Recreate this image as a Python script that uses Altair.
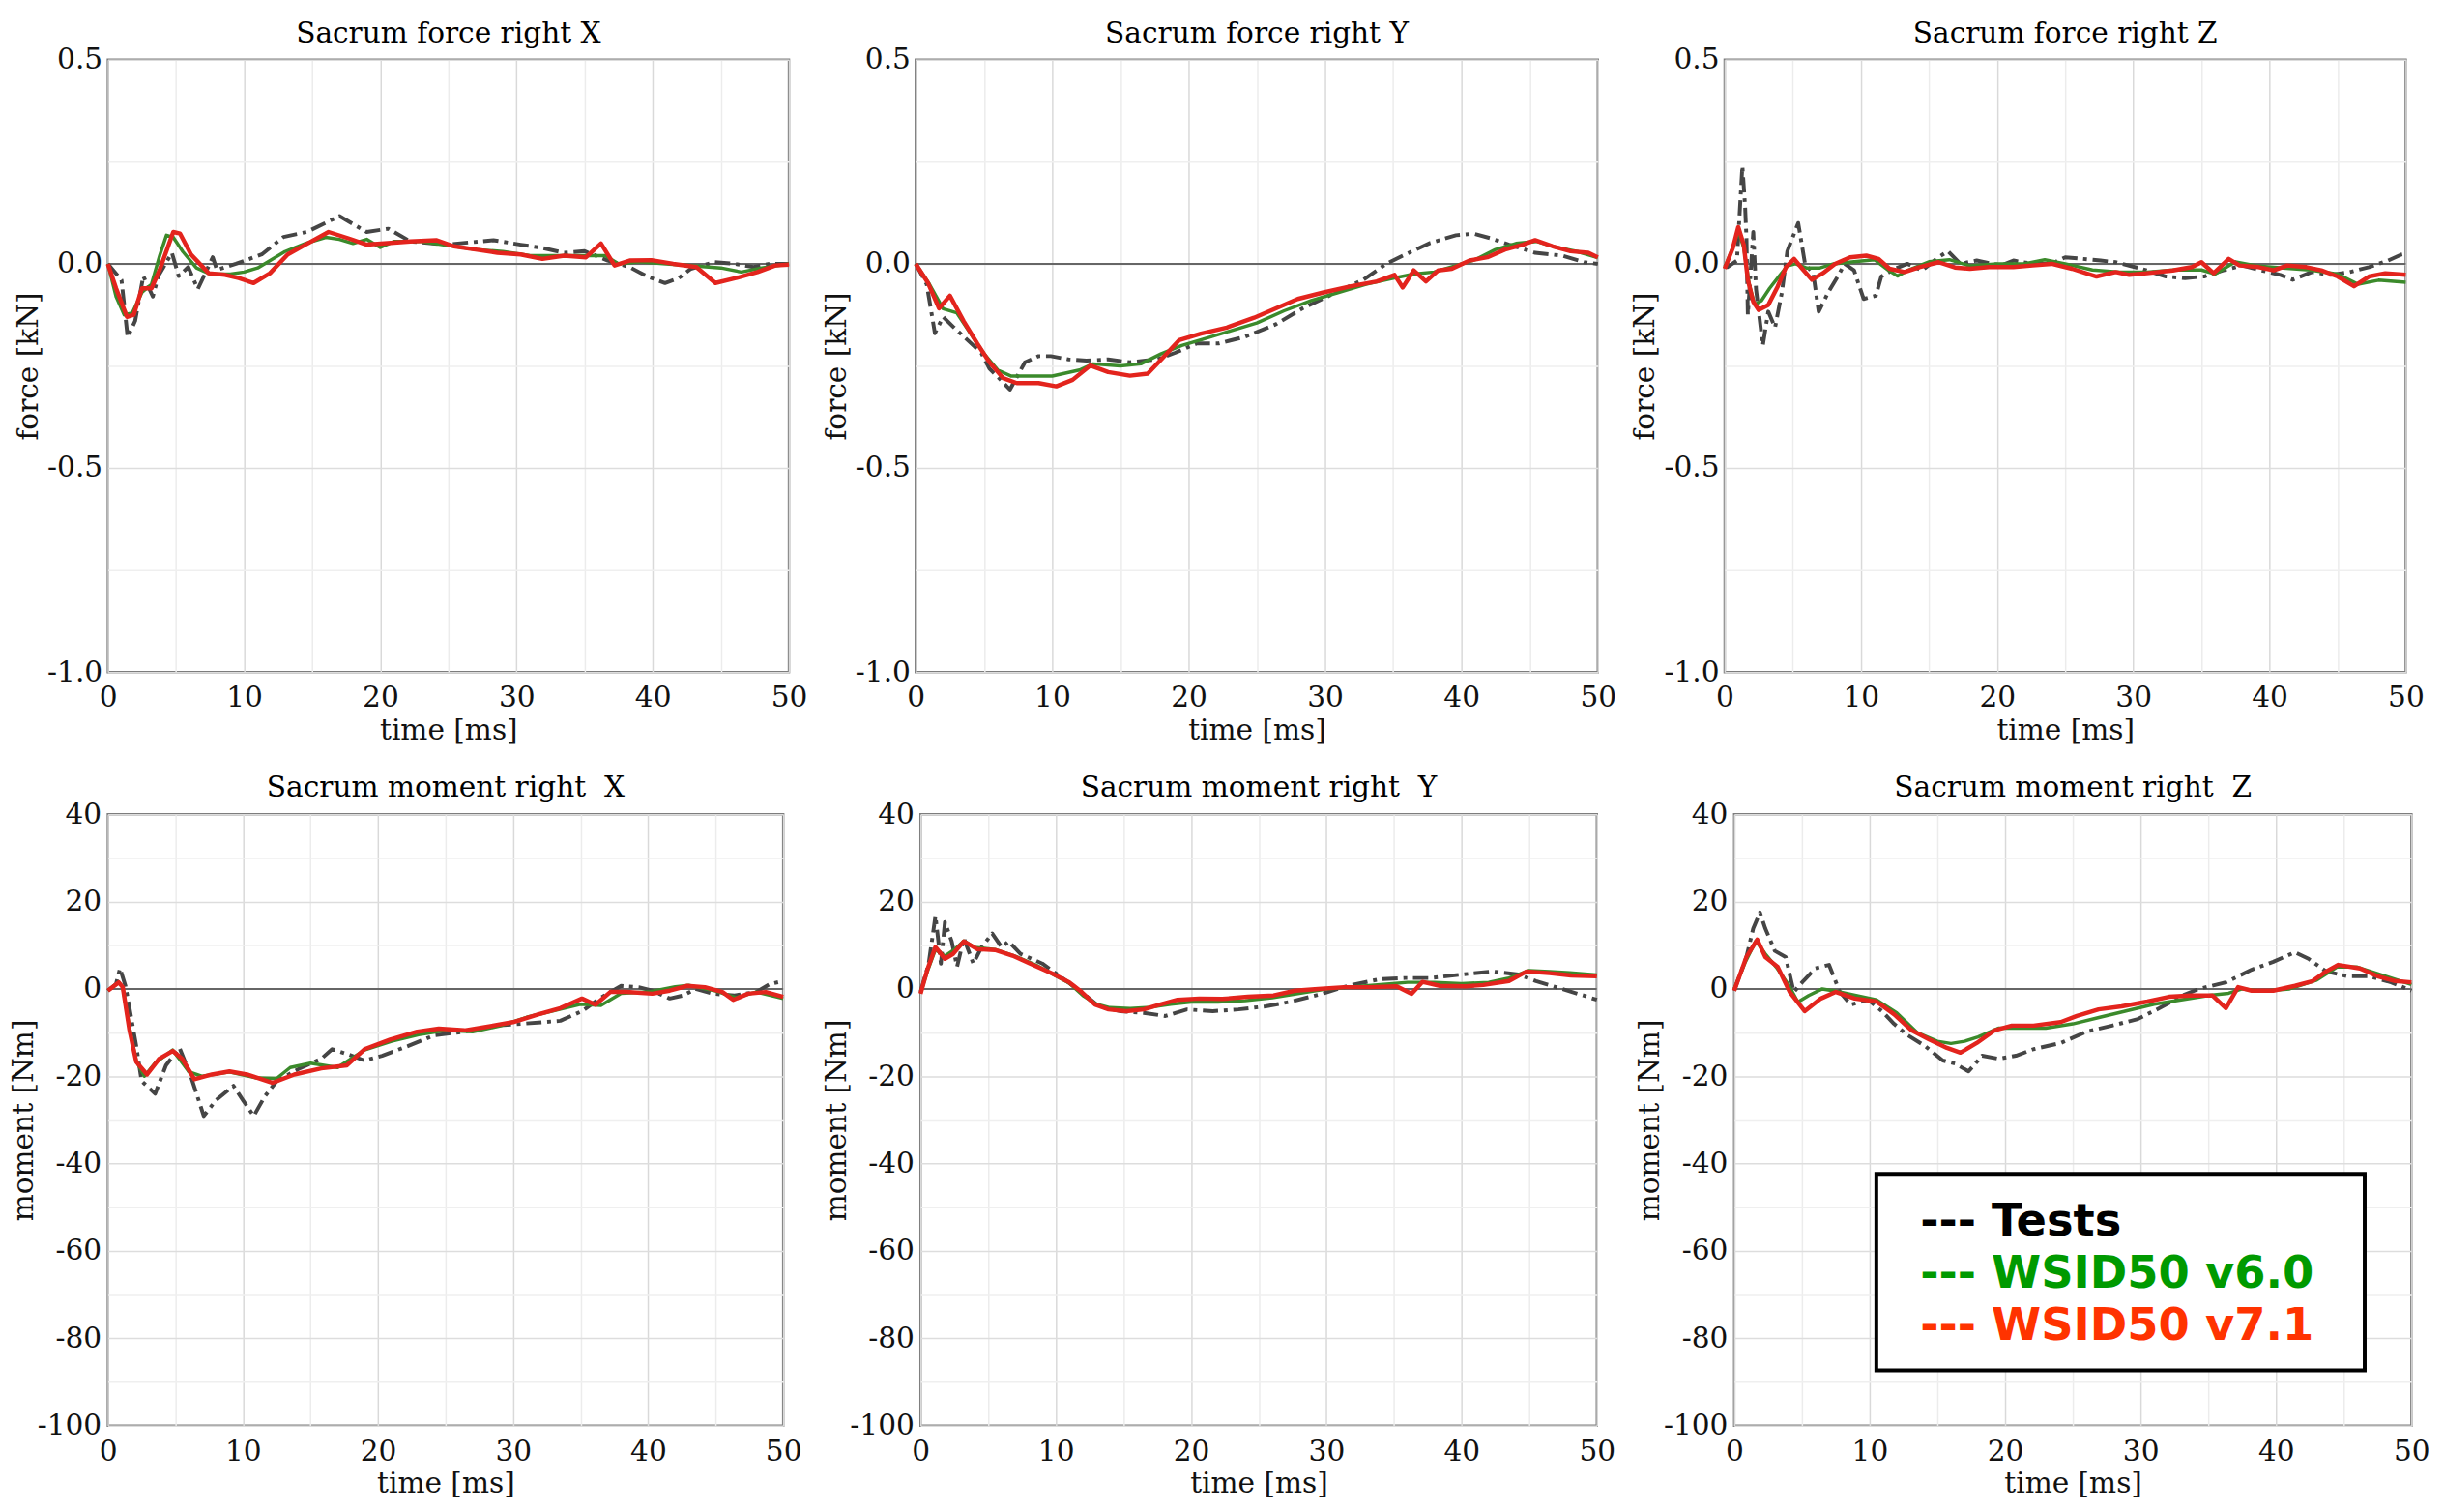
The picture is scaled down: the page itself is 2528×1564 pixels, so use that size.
import altair as alt
import pandas as pd

SERIES = ["Tests", "WSID50 v6.0", "WSID50 v7.1"]

# ---------------- Sacrum force right X [kN] ----------------
FX_TESTS = [(0, 0), (1.0, -0.04), (1.45, -0.18), (2.0, -0.14), (2.6, -0.03), (3.3, -0.08), (3.7, -0.03),
            (4.7, 0.027), (5.2, -0.03), (5.9, -0.008), (6.6, -0.062), (7.7, 0.016), (8.0, -0.015), (9.4, 0.0),
            (11.3, 0.023), (12.9, 0.066), (14.6, 0.078), (17.0, 0.117), (19.0, 0.078), (20.6, 0.086),
            (22.2, 0.055), (24.8, 0.047), (28.3, 0.058), (30.3, 0.047), (31.9, 0.039), (33.5, 0.027),
            (35.0, 0.031), (36.7, 0.008), (38.3, -0.008), (39.6, -0.031), (40.9, -0.047), (41.9, -0.035),
            (42.8, -0.012), (44.5, 0.004), (46.0, 0.0), (47.4, -0.008), (48.6, 0.0), (50, 0.0)]
FX_V60 = [(0, 0), (0.6, -0.08), (1.2, -0.125), (1.8, -0.12), (2.5, -0.07), (3.2, -0.05), (3.8, 0.02),
          (4.3, 0.07), (4.8, 0.065), (5.5, 0.03), (6.5, -0.01), (7.5, -0.025), (9, -0.025), (10, -0.02),
          (11, -0.01), (12, 0.01), (13, 0.03), (14.5, 0.05), (16, 0.065), (17, 0.06), (18, 0.05), (19, 0.06),
          (20, 0.04), (21, 0.055), (23, 0.055), (25, 0.045), (27, 0.035), (29, 0.03), (31, 0.02), (33, 0.02),
          (35, 0.02), (36.5, 0.02), (37.5, 0.0), (39, 0.005), (41, 0.0), (43, -0.005), (45, -0.01),
          (46.5, -0.02), (48, -0.01), (50, 0.0)]
FX_V71 = [(0, 0), (0.6, -0.06), (1.4, -0.13), (1.9, -0.125), (2.5, -0.06), (3.2, -0.06), (3.8, -0.015),
          (4.8, 0.078), (5.3, 0.074), (6.1, 0.023), (7.4, -0.023), (8.6, -0.027), (9.6, -0.035),
          (10.7, -0.047), (11.9, -0.023), (13.2, 0.023), (14.5, 0.047), (16.2, 0.078), (17.7, 0.062),
          (19.0, 0.047), (20.3, 0.05), (22.2, 0.055), (24.1, 0.058), (25.4, 0.043), (27.0, 0.035),
          (28.6, 0.027), (30.3, 0.023), (31.9, 0.012), (33.5, 0.02), (35.1, 0.016), (36.2, 0.05),
          (37.2, -0.004), (38.3, 0.008), (39.9, 0.009), (41.5, 0.0), (43.2, -0.008), (44.6, -0.047),
          (46.1, -0.035), (47.7, -0.02), (49.0, -0.004), (50, -0.002)]

# ---------------- Sacrum force right Y [kN] ----------------
FY_TESTS = [(0, 0), (0.8, -0.05), (1.4, -0.17), (2.0, -0.13), (2.8, -0.156), (3.8, -0.187), (4.8, -0.218),
            (5.4, -0.257), (6.1, -0.28), (6.9, -0.308), (8.0, -0.241), (9.0, -0.226), (9.9, -0.226),
            (11.2, -0.234), (12.5, -0.237), (14.1, -0.234), (15.7, -0.241), (17.7, -0.234), (19.0, -0.218),
            (20.6, -0.195), (22.2, -0.195), (24.1, -0.179), (26.4, -0.148), (28.3, -0.11), (30.3, -0.078),
            (32.8, -0.039), (34.5, 0.0), (35.7, 0.02), (37.7, 0.051), (39.6, 0.07), (40.9, 0.074),
            (42.2, 0.062), (43.5, 0.047), (45.4, 0.027), (47.4, 0.02), (49.0, 0.004), (50, 0.0)]
FY_V60 = [(0, 0), (1, -0.05), (2, -0.11), (3, -0.12), (4, -0.17), (5, -0.22), (6, -0.26), (7, -0.275),
          (8, -0.275), (10, -0.275), (12, -0.26), (13, -0.245), (15, -0.25), (16.5, -0.245), (18, -0.22),
          (19.5, -0.2), (21, -0.185), (23, -0.165), (25, -0.145), (27, -0.115), (29, -0.09), (31, -0.07),
          (33, -0.05), (35, -0.035), (36.5, -0.025), (38, -0.02), (39.5, -0.005), (41, 0.01), (42.5, 0.035),
          (44, 0.05), (45.5, 0.055), (47, 0.04), (48.5, 0.03), (50, 0.015)]
FY_V71 = [(0, 0), (0.9, -0.047), (1.7, -0.109), (2.5, -0.078), (3.5, -0.14), (4.5, -0.195), (5.4, -0.241),
          (6.4, -0.28), (7.4, -0.292), (9.0, -0.292), (10.3, -0.3), (11.5, -0.284), (12.8, -0.249),
          (14.1, -0.265), (15.7, -0.274), (17.0, -0.269), (18.0, -0.234), (19.3, -0.187), (20.9, -0.171),
          (22.8, -0.156), (24.8, -0.132), (26.4, -0.109), (28.0, -0.086), (29.9, -0.07), (31.9, -0.055),
          (33.8, -0.043), (35.1, -0.027), (35.7, -0.058), (36.5, -0.016), (37.4, -0.043), (38.3, -0.016),
          (39.3, -0.012), (40.6, 0.008), (41.9, 0.016), (43.2, 0.035), (44.5, 0.047), (45.4, 0.058),
          (46.7, 0.043), (48.0, 0.031), (49.3, 0.027), (50, 0.016)]

# ---------------- Sacrum force right Z [kN] ----------------
FZ_TESTS = [(0, 0), (0.2, -0.008), (0.9, 0.008), (1.3, 0.24), (1.5, 0.14), (1.6, 0.062), (1.7, -0.125),
            (2.1, 0.078), (2.3, -0.062), (2.8, -0.2), (3.2, -0.117), (3.7, -0.156), (4.2, -0.07), (4.6, 0.031),
            (5.4, 0.1), (5.9, 0.0), (6.5, -0.023), (6.9, -0.117), (7.6, -0.07), (8.3, -0.031), (8.8, 0.0),
            (9.5, -0.016), (10.2, -0.086), (11.1, -0.078), (11.5, -0.031), (12.5, -0.012), (13.4, 0.0),
            (14.5, -0.016), (15.7, 0.016), (16.4, 0.031), (17.3, 0.0), (18.5, 0.008), (20.3, -0.004),
            (21.2, 0.008), (22.6, 0.0), (24.0, 0.0), (25.0, 0.016), (27.6, 0.008), (28.7, 0.004),
            (30.6, -0.012), (32.4, -0.031), (33.8, -0.035), (35.2, -0.031), (36.6, -0.016), (38.0, -0.004),
            (39.4, -0.016), (40.8, -0.027), (41.7, -0.039), (43.1, -0.02), (44.5, -0.027), (45.9, -0.02),
            (47.3, -0.008), (48.7, 0.008), (49.7, 0.023), (50, 0.025)]
FZ_V60 = [(0, -0.01), (0.6, 0.04), (1.0, 0.08), (1.4, 0.04), (1.8, -0.05), (2.2, -0.1), (2.7, -0.09),
          (3.3, -0.06), (4.0, -0.03), (4.6, -0.005), (5.2, 0.0), (6, -0.01), (7, -0.01), (8, 0.0), (9.5, 0.005),
          (11, 0.01), (12, -0.015), (12.7, -0.03), (13.5, -0.015), (15, 0.005), (16.5, 0.01), (18, -0.005),
          (20, 0.0), (22, 0.0), (23.5, 0.01), (25, 0.0), (27, -0.015), (29, -0.02), (31, -0.02), (33, -0.015),
          (35, -0.015), (36, -0.025), (37.5, 0.005), (39, -0.005), (41, -0.01), (43, -0.015), (45, -0.025),
          (46.5, -0.05), (48, -0.04), (50, -0.045)]
FZ_V71 = [(0, -0.012), (0.6, 0.039), (1.0, 0.09), (1.4, 0.047), (1.7, -0.039), (2.1, -0.093), (2.5, -0.113),
          (3.2, -0.101), (3.9, -0.055), (4.5, -0.008), (5.1, 0.012), (5.7, -0.012), (6.4, -0.039),
          (7.2, -0.023), (8.1, 0.0), (9.2, 0.016), (10.4, 0.02), (11.3, 0.012), (12.1, -0.012), (13.2, -0.02),
          (14.3, -0.008), (15.7, 0.004), (16.9, -0.009), (18.0, -0.012), (19.4, -0.008), (21.2, -0.008),
          (22.6, -0.004), (24.0, 0.0), (25.5, -0.012), (27.3, -0.031), (28.7, -0.02), (29.7, -0.027),
          (31.0, -0.023), (32.9, -0.016), (34.3, -0.008), (35.0, 0.004), (35.9, -0.023), (37.0, 0.012),
          (37.8, -0.004), (39.2, -0.008), (40.3, -0.016), (41.3, -0.004), (42.7, -0.008), (43.8, -0.016),
          (45.0, -0.031), (46.2, -0.055), (47.3, -0.031), (48.5, -0.023), (50, -0.027)]

# ---------------- Sacrum moment right X [Nm] ----------------
MX_TESTS = [(0, -0.4), (0.6, 1.1), (0.9, 4.7), (1.3, 0.7), (1.6, -4.4), (2.1, -13.1), (2.5, -21.1),
            (3.5, -24.0), (4.3, -17.5), (5.3, -13.5), (6.1, -19.6), (7.1, -29.1), (8.0, -25.5), (9.3, -22.2),
            (10.0, -25.5), (10.8, -29.1), (11.6, -24.7), (12.5, -21.1), (14.2, -18.2), (15.8, -16.0),
            (16.6, -13.8), (17.7, -14.9), (19.0, -16.4), (20.3, -15.3), (22.2, -13.1), (24.2, -10.6),
            (26.4, -9.8), (28.7, -8.4), (30.6, -8.0), (33.5, -7.3), (35.1, -5.1), (36.4, -2.2), (38.0, 0.7),
            (39.3, 0.4), (40.3, -0.4), (41.6, -2.2), (42.6, -1.5), (43.5, 0.0), (44.8, -1.1), (46.4, -1.5),
            (48.0, -0.7), (49.0, 1.1), (50, 1.8)]
MX_V60 = [(0, -0.4), (0.8, 1.5), (1.1, 0.4), (1.6, -9.0), (2.1, -16.5), (2.7, -20.0), (3.5, -17.0),
          (4.8, -14.0), (6.0, -19.0), (7.0, -20.0), (9.0, -19.0), (11.0, -20.4), (12.5, -20.5), (13.5, -18.0),
          (15.0, -17.0), (17.0, -18.0), (19.0, -14.0), (21.0, -12.0), (23.0, -10.5), (25.0, -9.5),
          (27.0, -9.8), (29.0, -8.5), (31.0, -6.5), (33.0, -5.0), (35.0, -3.5), (36.5, -3.8), (38.0, -1.0),
          (40.0, -0.7), (42.0, 0.5), (43.0, 0.8), (45.0, -0.5), (46.5, -2.0), (48.0, -0.7), (50, -2.2)]
MX_V71 = [(0, -0.4), (0.8, 1.5), (1.1, 0.4), (1.6, -9.5), (2.1, -16.7), (2.9, -19.6), (3.8, -16.0),
          (4.8, -14.2), (5.5, -16.0), (6.4, -20.7), (7.7, -19.6), (9.0, -18.9), (10.3, -19.6), (12.2, -21.5),
          (13.8, -19.6), (15.8, -18.2), (17.7, -17.5), (19.0, -13.8), (20.9, -11.6), (22.9, -9.8),
          (24.5, -9.1), (26.4, -9.5), (28.0, -8.7), (30.0, -7.6), (31.9, -5.8), (33.5, -4.4), (35.1, -2.2),
          (36.1, -3.6), (37.2, -0.7), (38.4, -0.7), (40.3, -1.1), (41.6, -0.4), (42.9, 0.7), (44.2, 0.4),
          (45.5, -0.7), (46.3, -2.5), (47.4, -1.1), (48.7, -0.7), (50, -1.8)]

# ---------------- Sacrum moment right Y [Nm] ----------------
MY_TESTS = [(0, -0.7), (0.6, 5.8), (1.1, 16.7), (1.5, 5.8), (1.8, 15.3), (2.3, 10.9), (2.7, 5.1), (3.2, 11.6),
            (3.9, 5.8), (4.5, 9.5), (5.3, 12.7), (6.0, 9.5), (6.5, 10.9), (7.4, 8.0), (9.0, 5.8), (10.3, 2.9),
            (11.9, -0.7), (13.2, -4.0), (14.8, -5.1), (16.5, -5.5), (18.1, -6.2), (19.7, -4.7), (21.6, -5.1),
            (23.5, -4.7), (25.5, -4.0), (27.4, -2.9), (29.7, -1.1), (31.6, 0.7), (33.9, 2.2), (35.8, 2.5),
            (37.7, 2.5), (40.0, 3.3), (42.3, 4.0), (44.2, 3.3), (45.5, 1.8), (47.4, 0.0), (49.0, -1.5),
            (50, -2.5)]
MY_V60 = [(0, -1.0), (0.5, 4.0), (1.1, 9.0), (1.8, 7.5), (2.5, 9.0), (3.2, 11.0), (4.0, 9.5), (5.5, 9.0),
          (7.0, 7.5), (8.5, 5.5), (10.0, 3.0), (11.0, 1.3), (12.0, -1.5), (13.0, -3.5), (14.0, -4.3),
          (15.5, -4.5), (17.0, -4.2), (18.5, -3.5), (20.0, -3.0), (22.0, -3.0), (24.0, -2.7), (26.0, -2.0),
          (28.0, -1.0), (30.0, 0.0), (32.0, 0.5), (34.0, 1.0), (36.0, 1.5), (38.0, 1.5), (40.0, 1.2),
          (42.0, 1.5), (43.5, 2.5), (45.0, 4.2), (46.5, 4.0), (48.0, 3.7), (50, 3.2)]
MY_V71 = [(0, -1.1), (0.5, 4.4), (1.1, 9.6), (1.8, 6.9), (2.4, 8.0), (3.2, 10.9), (4.2, 9.1), (5.5, 8.9),
          (6.8, 7.6), (8.1, 5.8), (9.7, 3.6), (11.0, 1.5), (11.9, -0.7), (12.9, -3.6), (13.9, -4.7),
          (15.2, -5.1), (16.5, -4.7), (17.7, -3.6), (19.0, -2.5), (20.6, -2.2), (22.3, -2.3), (24.2, -1.8),
          (26.1, -1.5), (27.7, -0.4), (29.4, 0.0), (31.3, 0.4), (33.2, 0.4), (35.2, 0.6), (36.3, -1.1),
          (37.1, 1.6), (38.4, 0.7), (40.3, 0.6), (41.6, 0.9), (43.5, 1.8), (44.8, 4.0), (46.5, 3.6),
          (48.1, 3.1), (50, 2.9)]

# ---------------- Sacrum moment right Z [Nm] ----------------
MZ_TESTS = [(0, -0.4), (0.9, 7.3), (1.4, 13.8), (1.9, 17.5), (2.3, 13.8), (3.0, 8.7), (3.8, 7.3), (4.4, -0.7),
            (5.1, 1.8), (6.0, 4.7), (7.0, 5.5), (7.8, -0.7), (8.6, -3.6), (9.9, -2.5), (10.9, -5.1),
            (11.8, -8.0), (12.8, -10.6), (14.1, -13.1), (15.4, -16.4), (16.3, -17.1), (17.3, -18.9),
            (18.3, -15.3), (19.5, -16.0), (20.8, -15.3), (22.1, -13.8), (24.1, -12.4), (26.0, -9.8),
            (27.9, -8.4), (29.8, -6.9), (31.4, -4.4), (33.1, -1.5), (34.3, 0.0), (36.3, 1.5), (38.2, 4.4),
            (39.8, 6.2), (41.4, 8.4), (42.4, 6.9), (43.7, 4.0), (45.3, 2.9), (46.9, 2.9), (48.5, 1.5),
            (50, -0.4)]
MZ_V60 = [(0, 0.0), (0.8, 6.0), (1.6, 11.0), (2.3, 8.0), (3.1, 5.0), (4.0, 1.0), (4.7, -3.0), (5.5, -1.5),
          (6.5, 0.0), (7.5, -0.5), (9.0, -1.5), (10.5, -2.5), (12.0, -5.5), (13.5, -10.0), (15.0, -12.0),
          (16.0, -12.5), (17.0, -12.0), (18.0, -11.0), (19.5, -9.0), (21.0, -9.0), (23.0, -9.0), (25.0, -8.0),
          (27.0, -6.5), (29.0, -5.0), (31.0, -3.5), (33.0, -2.5), (35.0, -1.5), (36.5, -1.0), (37.5, 0.0),
          (39.0, -0.5), (41.0, 0.0), (43.0, 2.0), (44.5, 5.0), (46.0, 5.0), (47.5, 3.5), (49.0, 2.0),
          (50, 1.0)]
MZ_V71 = [(0, -0.4), (0.9, 7.3), (1.7, 11.3), (2.3, 7.3), (3.2, 5.1), (4.1, -0.7), (5.2, -5.1), (6.4, -2.2),
          (7.5, -0.7), (8.9, -2.2), (10.5, -2.9), (11.8, -5.8), (13.1, -9.5), (14.4, -11.6), (15.7, -13.5),
          (16.7, -14.6), (17.9, -12.4), (19.2, -9.5), (20.5, -8.4), (22.1, -8.4), (24.1, -7.6), (25.3, -6.2),
          (26.9, -4.7), (28.6, -4.0), (30.5, -2.9), (32.1, -1.8), (33.7, -1.5), (35.3, -1.5), (36.3, -4.4),
          (37.2, 0.4), (38.2, -0.4), (39.8, -0.4), (41.4, 0.7), (42.7, 1.8), (43.7, 4.0), (44.6, 5.5),
          (46.2, 4.7), (47.5, 2.9), (48.8, 1.8), (50, 1.5)]

FORCE_TICKS = [-1.0, -0.75, -0.5, -0.25, 0.0, 0.25, 0.5]
MOMENT_TICKS = [-100, -90, -80, -70, -60, -50, -40, -30, -20, -10, 0, 10, 20, 30, 40]
TIME_TICKS = [0, 5, 10, 15, 20, 25, 30, 35, 40, 45, 50]

LEGEND_LABELS = ["--- Tests", "--- WSID50 v6.0", "--- WSID50 v7.1"]

SERIF = "DejaVu Serif"
STYLE = {
    "Tests": dict(color="#454545", strokeWidth=4, strokeDash=[16, 6, 4, 6]),
    "WSID50 v6.0": dict(color="#3b8a2b", strokeWidth=3.5),
    "WSID50 v7.1": dict(color="#e3241d", strokeWidth=4.5),
}
LEGEND_COLORS = ["#000000", "#009a00", "#ff3300"]


def frame(series_map):
    rows = []
    for name, pts in series_map.items():
        for t, v in pts:
            rows.append({"series": name, "t": t, "v": v})
    return pd.DataFrame(rows)


def panel(title, ytitle, series_map, ydom, yticks, kind, width, height, legend=False):
    df = frame(series_map)
    if kind == "force":
        lab = "(datum.value < 0 ? '-' : '') + format(abs(datum.value), '.1f')"
        major = "abs(datum.value * 2 - round(datum.value * 2)) < 1e-9"
        title_x, lab_pad = -68, 6
    else:
        lab = "(datum.value < 0 ? '-' : '') + format(abs(datum.value), 'd')"
        major = "datum.value % 20 == 0"
        title_x, lab_pad = -73, 7
    xaxis = alt.Axis(values=TIME_TICKS, labelExpr="datum.value % 10 == 0 ? datum.label : ''",
                     title="time [ms]", grid=True, labelPadding=12, titlePadding=4,
                     gridColor={"condition": {"test": "datum.value % 10 == 0", "value": "#d9d9d9"},
                                "value": "#ececec"})
    yaxis = alt.Axis(values=yticks, labelExpr=f"{major} ? {lab} : ''", title=ytitle, grid=True,
                     labelPadding=lab_pad, titleX=title_x,
                     gridColor={"condition": {"test": major, "value": "#dddddd"}, "value": "#efefef"})
    x = alt.X("t:Q", scale=alt.Scale(domain=[0, 50], nice=False, zero=False), axis=xaxis)
    y = alt.Y("v:Q", scale=alt.Scale(domain=ydom, nice=False, zero=False), axis=yaxis)

    zero = alt.Chart(pd.DataFrame({"v": [0.0]})).mark_rule(color="#666666", strokeWidth=2).encode(y=y)
    layers = [zero]
    for s in SERIES:
        layers.append(
            alt.Chart(df).transform_filter(alt.datum.series == s)
            .mark_line(strokeCap="butt", strokeJoin="round", **STYLE[s])
            .encode(x=x, y=y, order="t:Q")
        )
    if legend:
        one = pd.DataFrame({"k": [0]})
        layers.append(
            alt.Chart(one).mark_rect(fill="white", stroke="black", strokeWidth=4)
            .encode(x=alt.value(149), x2=alt.value(661), y=alt.value(377), y2=alt.value(583))
        )
        for i, (lbl, col) in enumerate(zip(LEGEND_LABELS, LEGEND_COLORS)):
            layers.append(
                alt.Chart(pd.DataFrame({"label": [lbl]}))
                .mark_text(font="DejaVu Sans", fontWeight="bold", fontSize=47, color=col,
                           align="left", baseline="middle")
                .encode(text="label:N", x=alt.value(195), y=alt.value(428 + 54.5 * i))
            )
    return alt.layer(*layers).properties(
        width=width, height=height,
        title=alt.TitleParams(title, font=SERIF, fontSize=30, fontWeight="normal", color="black",
                              offset=-3, frame="group"),
    )


top = alt.hconcat(
    panel("Sacrum force right X", "force [kN]",
          {"Tests": FX_TESTS, "WSID50 v6.0": FX_V60, "WSID50 v7.1": FX_V71},
          [-1.0, 0.5], FORCE_TICKS, "force", 714, 642),
    panel("Sacrum force right Y", "force [kN]",
          {"Tests": FY_TESTS, "WSID50 v6.0": FY_V60, "WSID50 v7.1": FY_V71},
          [-1.0, 0.5], FORCE_TICKS, "force", 715, 642),
    panel("Sacrum force right Z", "force [kN]",
          {"Tests": FZ_TESTS, "WSID50 v6.0": FZ_V60, "WSID50 v7.1": FZ_V71},
          [-1.0, 0.5], FORCE_TICKS, "force", 714, 642),
    spacing=12,
)
bottom = alt.hconcat(
    panel("Sacrum moment right\u00a0 X", "moment [Nm]",
          {"Tests": MX_TESTS, "WSID50 v6.0": MX_V60, "WSID50 v7.1": MX_V71},
          [-100, 40], MOMENT_TICKS, "moment", 708, 641),
    panel("Sacrum moment right\u00a0 Y", "moment [Nm]",
          {"Tests": MY_TESTS, "WSID50 v6.0": MY_V60, "WSID50 v7.1": MY_V71},
          [-100, 40], MOMENT_TICKS, "moment", 709, 641),
    panel("Sacrum moment right\u00a0 Z", "moment [Nm]",
          {"Tests": MZ_TESTS, "WSID50 v6.0": MZ_V60, "WSID50 v7.1": MZ_V71},
          [-100, 40], MOMENT_TICKS, "moment", 710, 641, legend=True),
    spacing=18,
)

chart = alt.vconcat(top, bottom, spacing=27).properties(
    padding={"left": 0, "top": 0, "right": 5, "bottom": 0}, background="white"
).configure_view(
    stroke="#7d7d7d", strokeWidth=2.5
).configure_axis(
    labelFont=SERIF, labelFontSize=30, labelColor="#111111", titleFont=SERIF, titleFontSize=30,
    titleFontWeight="normal", titleColor="#111111", ticks=False, domain=False,
    labelOverlap=False, labelFlush=False, gridWidth=1.5,
)

chart.save("out.html", embed_options={"renderer": "svg", "actions": False})
